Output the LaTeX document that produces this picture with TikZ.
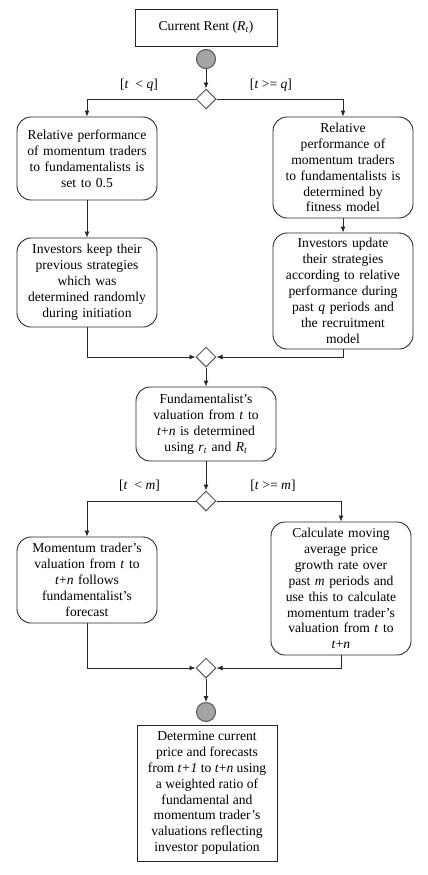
\documentclass[tikz,border=0pt]{standalone}
\usepackage{fontspec}
\setmainfont{Liberation Serif}
\usetikzlibrary{shapes.geometric, arrows.meta, positioning}
\definecolor{linegray}{RGB}{40,40,40}
\definecolor{markgray}{RGB}{85,85,85}
\definecolor{dotfill}{RGB}{165,165,165}

\begin{document}
\begin{tikzpicture}[
        x=1pt, y=-1pt,
        every node/.style={font=\fontsize{13.6}{15.9}\selectfont},
        plain/.style={rectangle, draw=linegray, line width=0.9pt, minimum width=142pt, align=center, inner sep=2pt},
        stage/.style={rectangle, draw=linegray, line width=0.9pt, rounded corners=14pt, minimum width=140pt, text width=134pt, align=center, inner sep=2pt},
        decision/.style={diamond, draw=markgray, fill=white, line width=1pt, minimum size=20pt, inner sep=0pt},
        dot/.style={circle, draw=markgray, fill=dotfill, line width=1pt, minimum size=19pt, inner sep=0pt},
        line/.style={draw=linegray, line width=0.9pt, -{Latex[length=6pt, width=5pt]}}
    ]
        \useasboundingbox (0,0) rectangle (428,875);

        \node[plain, minimum height=37pt] (rent) at (206,27.5) {Current Rent (\textit{R}\textsubscript{\textit{t}})};
        \node[dot] (start) at (206,59) {};
        \node[decision] (splitq) at (206,99) {};
        \node (ltq) at (139,85) {[\textit{t}~~< \textit{q}]};
        \node (geq) at (271,85) {[\textit{t} >= \textit{q}]};

        \node[stage, minimum height=83pt] (fixed) at (87,158.5) {Relative performance\\of momentum traders\\to fundamentalists is\\set to 0.5};
        \node[stage, minimum height=101pt] (fitness) at (343,167.5) {Relative\\performance of\\momentum traders\\to fundamentalists is\\determined by\\fitness model};
        \node[stage, minimum height=89pt] (keep) at (87,282.5) {Investors keep their\\previous strategies\\which was\\determined randomly\\during initiation};
        \node[stage, minimum height=116pt] (update) at (343,291) {Investors update\\their strategies\\according to relative\\performance during\\past \textit{q} periods and\\the recruitment\\model};
        \node[decision] (mergeq) at (206,357) {};

        \node[stage, minimum height=74pt] (fund) at (206,424) {Fundamentalist's\\valuation from \textit{t} to\\\textit{t}+\textit{n} is determined\\using \textit{r}\textsubscript{\textit{t}} and \textit{R}\textsubscript{\textit{t}}};
        \node[decision] (splitm) at (206,501) {};
        \node (ltm) at (139.5,486) {[\textit{t}~~< \textit{m}]};
        \node (gem) at (273,486) {[\textit{t} >= \textit{m}]};

        \node[stage, minimum height=86pt] (follow) at (87,580) {Momentum trader's\\valuation from \textit{t} to\\\textit{t}+\textit{n} follows\\fundamentalist's\\forecast};
        \node[stage, minimum height=133pt] (moving) at (341,588.5) {Calculate moving\\average price\\growth rate over\\past \textit{m} periods and\\use this to calculate\\momentum trader's\\valuation from \textit{t} to\\\textit{t}+\textit{n}};
        \node[decision] (mergem) at (206,668) {};
        \node[dot] (stop) at (206,712) {};
        \node[plain, minimum width=140pt, minimum height=136pt] (price) at (207,793) {Determine current\\price and forecasts\\from \textit{t+1} to \textit{t}+\textit{n} using\\a weighted ratio of\\fundamental and\\momentum trader's\\valuations reflecting\\investor population};

        \draw[line] (start) -- (splitq);
        \draw[line] (splitq.west) -| (fixed.north);
        \draw[line] (splitq.east) -| (fitness.north);
        \draw[line] (fixed) -- (keep);
        \draw[line] (fitness) -- (update);
        \draw[line] (keep.south) |- (mergeq.west);
        \draw[line] (update.south) |- (mergeq.east);
        \draw[line] (mergeq) -- (fund);
        \draw[line] (fund) -- (splitm);
        \draw[line] (splitm.west) -| (follow.north);
        \draw[line] (splitm.east) -| (moving.north);
        \draw[line] (follow.south) |- (mergem.west);
        \draw[line] (moving.south) |- (mergem.east);
        \draw[line] (mergem) -- (stop);
    \end{tikzpicture}
\end{document}
